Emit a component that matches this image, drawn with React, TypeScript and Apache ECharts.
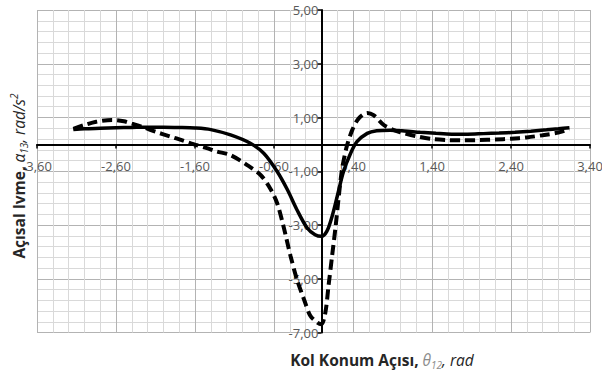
import React, { useEffect, useRef } from "react";
import * as echarts from "echarts";

// Crank angle θ12 (rad) and angular acceleration α13 (rad/s²) — solid curve
const thetaSolid = [
  -3.14, -3.0, -2.8, -2.6, -2.4, -2.2, -2.0, -1.8, -1.6, -1.4, -1.15, -0.9, -0.73,
  -0.56, -0.43, -0.31, -0.18, -0.08, 0.0, 0.07, 0.135, 0.2, 0.28, 0.37, 0.45, 0.58,
  0.7, 0.87, 1.05, 1.25, 1.45, 1.65, 1.85, 2.05, 2.25, 2.45, 2.65, 2.85, 3.0, 3.14,
];
const alphaSolid = [
  0.55, 0.58, 0.6, 0.62, 0.63, 0.64, 0.64, 0.63, 0.61, 0.55, 0.35, 0.04, -0.33,
  -1.01, -1.69, -2.43, -3.11, -3.36, -3.42, -3.23, -2.68, -1.94, -1.01, -0.33, 0.1,
  0.41, 0.51, 0.53, 0.5, 0.45, 0.41, 0.38, 0.38, 0.4, 0.42, 0.45, 0.49, 0.54, 0.58,
  0.62,
];

// Dashed curve
const thetaDashed = [
  -3.14, -3.0, -2.85, -2.65, -2.5, -2.4, -2.25, -2.1, -1.92, -1.75, -1.62, -1.45,
  -1.33, -1.15, -0.94, -0.77, -0.65, -0.56, -0.48, -0.39, -0.31, -0.22, -0.14,
  -0.05, 0.0, 0.05, 0.09, 0.135, 0.18, 0.22, 0.26, 0.32, 0.39, 0.47, 0.58, 0.66,
  0.79, 0.9, 1.0, 1.2, 1.4, 1.6, 1.8, 2.0, 2.2, 2.4, 2.6, 2.8, 3.0, 3.14,
];
const alphaDashed = [
  0.58, 0.72, 0.84, 0.91, 0.86, 0.77, 0.63, 0.47, 0.3, 0.14, 0.01, -0.14, -0.26,
  -0.4, -0.77, -1.14, -1.63, -2.19, -3.05, -4.16, -5.02, -5.77, -6.38, -6.63,
  -6.69, -6.26, -5.27, -4.16, -3.05, -1.94, -0.95, -0.09, 0.53, 0.96, 1.17, 1.09,
  0.72, 0.55, 0.45, 0.3, 0.2, 0.16, 0.15, 0.16, 0.18, 0.21, 0.26, 0.34, 0.44, 0.56,
];

// Tick labels (decimal comma)
const xTickLabels = ["-3,60", "-2,60", "-1,60", "-0,60", "0,40", "1,40", "2,40", "3,40"];
const yTickLabels = ["-7,00", "-5,00", "-3,00", "-1,00", "1,00", "3,00", "5,00"];

const X_MIN = -3.6;
const X_MAX = 3.4;
const Y_MIN = -7;
const Y_MAX = 5;

const GRID_LEFT = 37;
const GRID_TOP = 10;
const GRID_W = 553;
const GRID_H = 322.5;

const FONT = "'Open Sans', 'DejaVu Sans', sans-serif";
const MAJOR = "#b3b3b3";
const MINOR = "#d9d9d9";
const LABEL = "#595959";

export default function App() {
  const ref = useRef<HTMLDivElement>(null);

  useEffect(() => {
    if (!ref.current) return;
    const chart = echarts.init(ref.current, undefined, { renderer: "svg" });

    const pairs = (xs: number[], ys: number[]) => xs.map((x, i) => [x, ys[i]]);

    // the axes cross at the origin: shift the label axes inward to the zero lines
    const xAxisOffset = -(GRID_H * (0 - Y_MIN)) / (Y_MAX - Y_MIN);
    const yAxisOffset = -(GRID_W * (0 - X_MIN)) / (X_MAX - X_MIN);

    const option: any = {
      animation: false,
      backgroundColor: "#ffffff",
      grid: {
        left: GRID_LEFT,
        top: GRID_TOP,
        width: GRID_W,
        height: GRID_H,
        containLabel: false,
        outerBoundsMode: "none",
      },
      xAxis: [
        {
          // data axis
          type: "value",
          min: X_MIN,
          max: X_MAX,
          show: false,
        },
        {
          // grid + labels (offset scale so ticks start at -3,60)
          type: "value",
          min: 0,
          max: X_MAX - X_MIN,
          interval: 1,
          position: "bottom",
          offset: xAxisOffset,
          axisLine: {
            show: true,
            onZero: false,
            lineStyle: { color: "#000", width: 2 },
          },
          axisTick: { show: true, length: 4, lineStyle: { color: "#000", width: 1.5 } },
          axisLabel: {
            margin: 15,
            color: LABEL,
            fontFamily: FONT,
            fontSize: 13,
            formatter: (v: number) => xTickLabels[Math.round(v)] ?? "",
          },
          splitLine: { show: true, lineStyle: { color: MAJOR, width: 1 } },
          minorTick: { show: false, splitNumber: 5 },
          minorSplitLine: { show: true, lineStyle: { color: MINOR, width: 1 } },
        },
      ],
      yAxis: [
        {
          type: "value",
          min: Y_MIN,
          max: Y_MAX,
          show: false,
        },
        {
          type: "value",
          min: 0,
          max: Y_MAX - Y_MIN,
          interval: 2,
          position: "left",
          offset: yAxisOffset,
          axisLine: {
            show: true,
            onZero: false,
            lineStyle: { color: "#000", width: 2 },
          },
          axisTick: { show: true, length: 4, lineStyle: { color: "#000", width: 1.5 } },
          axisLabel: {
            margin: 3,
            color: LABEL,
            fontFamily: FONT,
            fontSize: 13,
            formatter: (v: number) => yTickLabels[Math.round(v / 2)] ?? "",
          },
          splitLine: { show: true, lineStyle: { color: MAJOR, width: 1 } },
          minorTick: { show: false, splitNumber: 5 },
          minorSplitLine: { show: true, lineStyle: { color: MINOR, width: 1 } },
        },
      ],
      series: [
        {
          type: "line",
          xAxisIndex: 0,
          yAxisIndex: 0,
          data: pairs(thetaSolid, alphaSolid),
          showSymbol: false,
          smooth: 0.3,
          lineStyle: { color: "#000", width: 3.5 },
          z: 3,
        },
        {
          type: "line",
          xAxisIndex: 0,
          yAxisIndex: 0,
          data: pairs(thetaDashed, alphaDashed),
          showSymbol: false,
          smooth: 0.3,
          lineStyle: { color: "#000", width: 4, type: [10, 5] },
          z: 3,
        },
      ],
      graphic: [
        {
          type: "text",
          x: 382,
          y: 360,
          style: {
            text: "{b|Kol Konum Açısı, }{g|θ}{gs|12}{i|, rad}",
            align: "center",
            verticalAlign: "middle",
            rich: {
              b: { fontFamily: FONT, fontWeight: "bold", fontSize: 15.5, fill: "#262626", lineHeight: 20 },
              g: { fontFamily: FONT, fontStyle: "italic", fontSize: 15.5, fill: "#8c8c8c", lineHeight: 20 },
              gs: { fontFamily: FONT, fontStyle: "italic", fontSize: 10, fill: "#8c8c8c", lineHeight: 12, verticalAlign: "bottom" },
              i: { fontFamily: FONT, fontStyle: "italic", fontSize: 15.5, fill: "#262626", lineHeight: 20 },
            },
          },
        },
        {
          type: "text",
          x: 19,
          y: 176,
          rotation: Math.PI / 2,
          style: {
            text: "{b|Açısal Ivme, }{g|α}{gs|13}{i|, rad/s}{sup|2}",
            align: "center",
            verticalAlign: "middle",
            rich: {
              b: { fontFamily: FONT, fontWeight: "bold", fontSize: 15.5, fill: "#262626", lineHeight: 20 },
              g: { fontFamily: FONT, fontStyle: "italic", fontSize: 15.5, fill: "#262626", lineHeight: 20 },
              gs: { fontFamily: FONT, fontStyle: "italic", fontSize: 10, fill: "#262626", lineHeight: 12, verticalAlign: "bottom" },
              i: { fontFamily: FONT, fontStyle: "italic", fontSize: 15.5, fill: "#262626", lineHeight: 20 },
              sup: { fontFamily: FONT, fontStyle: "italic", fontSize: 10, fill: "#262626", lineHeight: 12, verticalAlign: "top" },
            },
          },
        },
      ],
    };

    chart.setOption(option);
    return () => chart.dispose();
  }, []);

  return (
    <div
      ref={ref}
      style={{ position: "absolute", left: 0, top: 0, width: 602, height: 374, background: "#fff" }}
    />
  );
}
